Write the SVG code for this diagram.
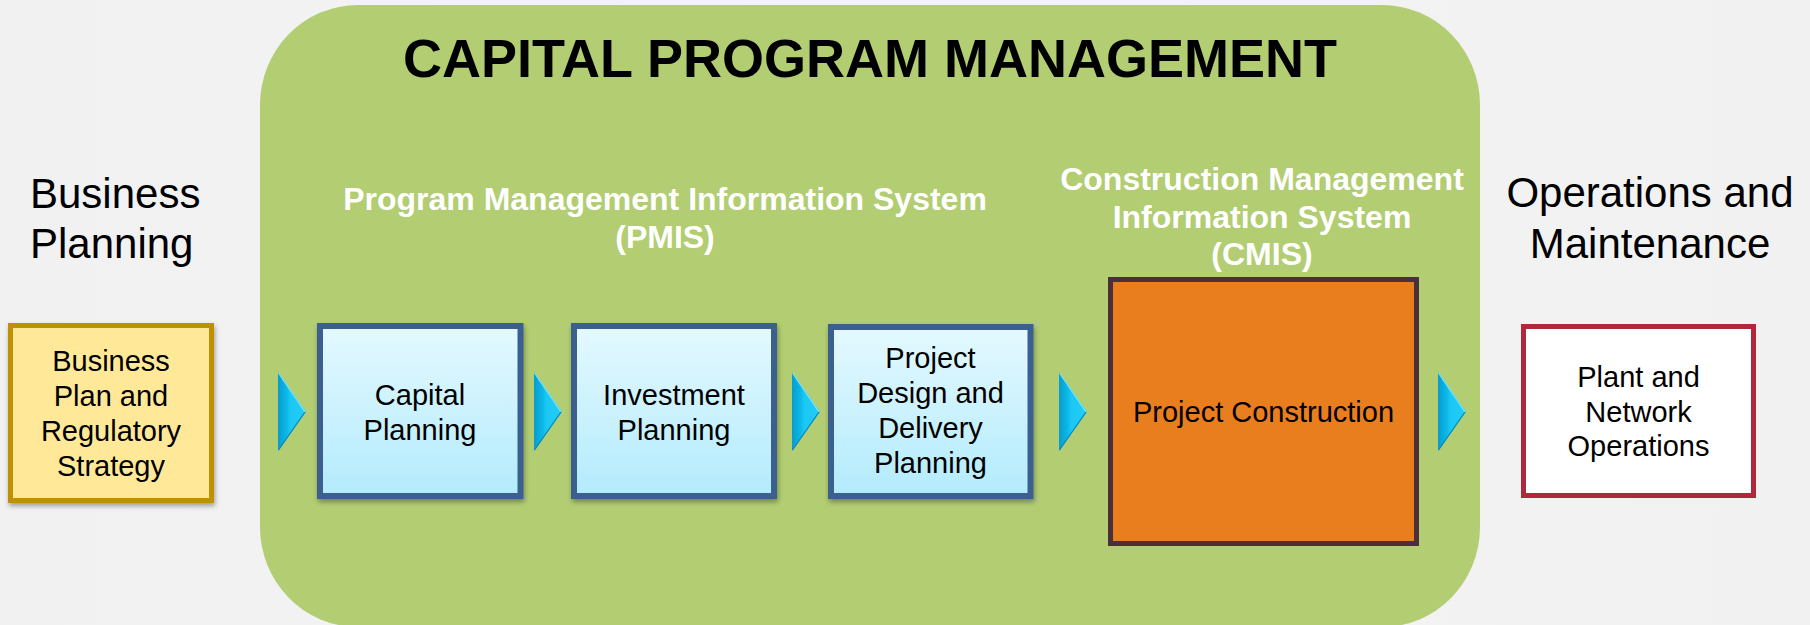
<svg xmlns="http://www.w3.org/2000/svg" width="1810" height="625" viewBox="0 0 1810 625">
<defs>
<style>
.t{font-family:"Liberation Sans",Arial,sans-serif;fill:#000;text-anchor:middle}
.box{font-size:29px}
.hdr{font-size:42px}
.sys{font-size:32px;font-weight:bold;fill:#fff}
.title{font-size:54px;font-weight:bold}
.blue{fill:url(#blueGrad);stroke:#3a6190;stroke-width:6}
</style>
<linearGradient id="blueGrad" x1="0" y1="0" x2="0" y2="1">
<stop offset="0" stop-color="#e4f9ff"/>
<stop offset="1" stop-color="#b3ebfc"/>
</linearGradient>
<linearGradient id="arrowGrad" x1="0" y1="0" x2="1" y2="0">
<stop offset="0" stop-color="#0a9ccc"/>
<stop offset="0.3" stop-color="#0ab8e8"/>
<stop offset="0.45" stop-color="#1cc8f4"/>
<stop offset="1" stop-color="#22ccf6"/>
</linearGradient>
<linearGradient id="bgGrad" x1="0" y1="0" x2="1" y2="0">
<stop offset="0" stop-color="#f1f1f1"/>
<stop offset="0.5" stop-color="#f4f4f4"/>
<stop offset="1" stop-color="#f1f1f1"/>
</linearGradient>
<filter id="shadow" x="-10%" y="-10%" width="125%" height="130%">
<feDropShadow dx="1" dy="3" stdDeviation="2.5" flood-color="#000" flood-opacity="0.35"/>
</filter>
<g id="arrow">
<path d="M0,0 L28,40 L0,79 Z" fill="url(#arrowGrad)"/>
<path d="M0.5,1 L27,40" stroke="#7fe4ff" stroke-width="1.2" fill="none"/>
<path d="M27,40 L0.5,78" stroke="#0a86b4" stroke-width="1.2" fill="none"/>
</g>
</defs>
<rect x="0" y="0" width="1810" height="625" fill="url(#bgGrad)"/>

<g id="capital-program-management">
<rect x="260" y="5" width="1220" height="622" rx="98" ry="100" fill="#b2cd72"/>
<text class="t title" x="870" y="77">CAPITAL PROGRAM MANAGEMENT</text>
</g>

<g id="label-business-planning">
<text class="t hdr" style="text-anchor:start" x="30" y="208">Business</text>
<text class="t hdr" style="text-anchor:start" x="30" y="258">Planning</text>
</g>

<g id="label-operations">
<text class="t hdr" x="1650" y="207">Operations and</text>
<text class="t hdr" x="1650" y="258">Maintenance</text>
</g>

<g id="label-pmis">
<text class="t sys" x="665" y="210">Program Management Information System</text>
<text class="t sys" x="665" y="248">(PMIS)</text>
</g>

<g id="label-cmis">
<text class="t sys" x="1262" y="190">Construction Management</text>
<text class="t sys" x="1262" y="228">Information System</text>
<text class="t sys" x="1262" y="265">(CMIS)</text>
</g>

<g id="business-plan">
<rect x="10.5" y="325.5" width="201" height="175" fill="#ffe999" stroke="#bf9000" stroke-width="5" filter="url(#shadow)"/>
<text class="t box" x="111" y="371">Business</text>
<text class="t box" x="111" y="406">Plan and</text>
<text class="t box" x="111" y="441">Regulatory</text>
<text class="t box" x="111" y="476">Strategy</text>
</g>

<g id="capital-planning">
<rect class="blue" x="320" y="326" width="200.5" height="170" filter="url(#shadow)"/>
<text class="t box" x="420" y="405">Capital</text>
<text class="t box" x="420" y="440">Planning</text>
</g>

<g id="investment-planning">
<rect class="blue" x="574" y="326" width="200" height="170" filter="url(#shadow)"/>
<text class="t box" x="674" y="405">Investment</text>
<text class="t box" x="674" y="440">Planning</text>
</g>

<g id="project-design">
<rect class="blue" x="831" y="327" width="199.5" height="169" filter="url(#shadow)"/>
<text class="t box" x="930.5" y="368">Project</text>
<text class="t box" x="930.5" y="403">Design and</text>
<text class="t box" x="930.5" y="438">Delivery</text>
<text class="t box" x="930.5" y="473">Planning</text>
</g>

<g id="project-construction">
<rect x="1110.5" y="279.5" width="306" height="264" fill="#e97e1e" stroke="#4a3038" stroke-width="5"/>
<text class="t box" x="1263.5" y="422">Project Construction</text>
</g>

<g id="plant-operations">
<rect x="1523.5" y="326.5" width="230" height="169" fill="#ffffff" stroke="#b0283a" stroke-width="5"/>
<text class="t box" x="1638.5" y="387">Plant and</text>
<text class="t box" x="1638.5" y="422">Network</text>
<text class="t box" x="1638.5" y="456">Operations</text>
</g>

<g id="connectors">
<use href="#arrow" x="278" y="372"/>
<use href="#arrow" x="534" y="372"/>
<use href="#arrow" x="792" y="372"/>
<use href="#arrow" x="1059" y="372"/>
<use href="#arrow" x="1438" y="372"/>
</g>
</svg>
